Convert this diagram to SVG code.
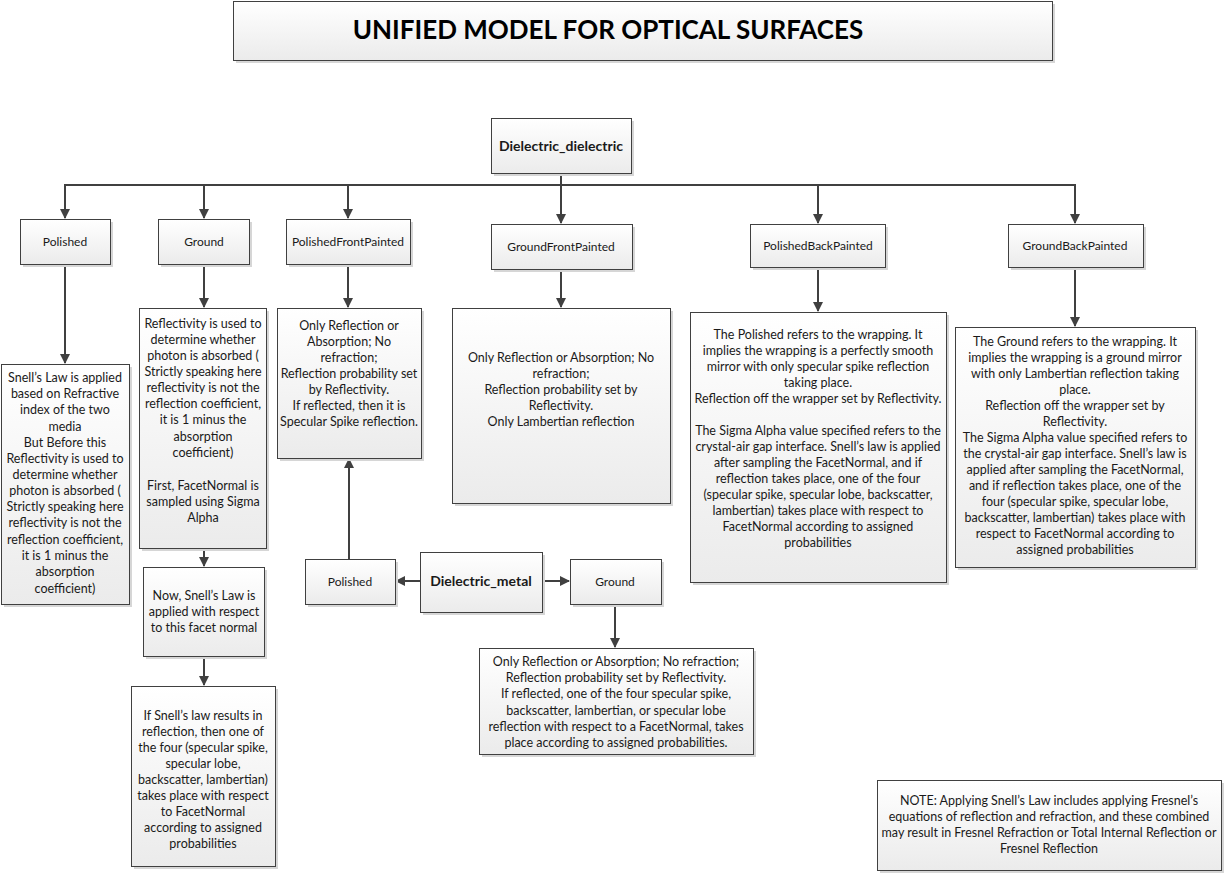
<svg xmlns="http://www.w3.org/2000/svg" width="1226" height="874" viewBox="0 0 1226 874">
<style>
.box{fill:url(#g);stroke:#404040;stroke-width:1}
.sh{fill:#d6d6d6}
text{font-family:Lato,"Open Sans","Liberation Sans",sans-serif;font-size:12.5px;fill:#1a1a1a;text-anchor:middle}
.n{font-size:12px}
.b{font-weight:bold;font-size:14px}
.t{font-weight:bold;font-size:26px;fill:#000}
.c line,.c path{stroke:#404040;stroke-width:2;fill:none}
</style>
<defs>
<linearGradient id="g" x1="0" y1="0" x2="0" y2="1"><stop offset="0" stop-color="#ffffff"/><stop offset="1" stop-color="#ebebeb"/></linearGradient>
<marker id="a" markerWidth="10" markerHeight="10" refX="9" refY="5" orient="auto" markerUnits="userSpaceOnUse"><path d="M0,0 L10,5 L0,10 z" fill="#404040"/></marker>
</defs>
<rect width="1226" height="874" fill="#fff"/>

<g id="title"><rect class="sh" x="236" y="4" width="819" height="59"/><rect class="box" x="233.5" y="1.5" width="819" height="59"/><text class="t" x="608" y="39">UNIFIED MODEL FOR OPTICAL SURFACES</text></g>

<g class="c" id="connectors">
<line x1="561" y1="173" x2="561" y2="185"/>
<line x1="64" y1="185" x2="1076" y2="185"/>
<line x1="65" y1="185" x2="65" y2="218" marker-end="url(#a)"/>
<line x1="204" y1="185" x2="204" y2="218" marker-end="url(#a)"/>
<line x1="348" y1="185" x2="348" y2="218" marker-end="url(#a)"/>
<line x1="561" y1="185" x2="561" y2="223" marker-end="url(#a)"/>
<line x1="818" y1="185" x2="818" y2="223" marker-end="url(#a)"/>
<line x1="1075" y1="185" x2="1075" y2="223" marker-end="url(#a)"/>
<line x1="65" y1="264" x2="65" y2="363" marker-end="url(#a)"/>
<line x1="204" y1="264" x2="204" y2="307" marker-end="url(#a)"/>
<line x1="348" y1="264" x2="348" y2="307" marker-end="url(#a)"/>
<line x1="561" y1="269" x2="561" y2="307" marker-end="url(#a)"/>
<line x1="818" y1="267" x2="818" y2="311" marker-end="url(#a)"/>
<line x1="1075" y1="267" x2="1075" y2="326" marker-end="url(#a)"/>
<line x1="204" y1="548" x2="204" y2="566" marker-end="url(#a)"/>
<line x1="204" y1="656" x2="204" y2="685" marker-end="url(#a)"/>
<line x1="420" y1="581" x2="396" y2="581" marker-end="url(#a)"/>
<line x1="542" y1="581" x2="569" y2="581" marker-end="url(#a)"/>
<line x1="349" y1="559" x2="349" y2="459" marker-end="url(#a)"/>
<line x1="615" y1="604" x2="615" y2="647" marker-end="url(#a)"/>
</g>

<g id="dielectric_dielectric"><rect class="sh" x="494" y="121" width="140" height="55"/><rect class="box" x="491.5" y="118.5" width="140" height="55"/><text class="b" x="561" y="151">Dielectric_dielectric</text></g>

<g id="polished"><rect class="sh" x="23" y="222" width="90" height="45"/><rect class="box" x="20.5" y="219.5" width="90" height="45"/><text class="n" x="65" y="246">Polished</text></g>
<g id="ground"><rect class="sh" x="161" y="222" width="91" height="45"/><rect class="box" x="158.5" y="219.5" width="91" height="45"/><text class="n" x="204" y="246">Ground</text></g>
<g id="polishedfrontpainted"><rect class="sh" x="289" y="222" width="124" height="45"/><rect class="box" x="286.5" y="219.5" width="124" height="45"/><text class="n" x="348" y="246">PolishedFrontPainted</text></g>
<g id="groundfrontpainted"><rect class="sh" x="494" y="227" width="141" height="45"/><rect class="box" x="491.5" y="224.5" width="141" height="45"/><text class="n" x="561" y="251">GroundFrontPainted</text></g>
<g id="polishedbackpainted"><rect class="sh" x="753" y="227" width="135" height="43"/><rect class="box" x="750.5" y="224.5" width="135" height="43"/><text class="n" x="818" y="250">PolishedBackPainted</text></g>
<g id="groundbackpainted"><rect class="sh" x="1011" y="227" width="135" height="43"/><rect class="box" x="1008.5" y="224.5" width="135" height="43"/><text class="n" x="1075" y="250">GroundBackPainted</text></g>

<g id="polished_desc"><rect class="sh" x="4" y="367" width="128" height="240"/><rect class="box" x="1.5" y="364.5" width="128" height="240"/>
<text x="65" y="382">Snell’s Law is applied</text>
<text x="65" y="398">based on Refractive</text>
<text x="65" y="414">index of the two</text>
<text x="65" y="431">media</text>
<text x="65" y="447">But Before this</text>
<text x="65" y="463">Reflectivity is used to</text>
<text x="65" y="479">determine whether</text>
<text x="65" y="495">photon is absorbed (</text>
<text x="65" y="511">Strictly speaking here</text>
<text x="65" y="527">reflectivity is not the</text>
<text x="65" y="544">reflection coefficient,</text>
<text x="65" y="560">it is 1 minus the</text>
<text x="65" y="576">absorption</text>
<text x="65" y="593">coefficient)</text>
</g>

<g id="ground_desc"><rect class="sh" x="142" y="311" width="127" height="240"/><rect class="box" x="139.5" y="308.5" width="127" height="240"/>
<text x="203" y="328">Reflectivity is used to</text>
<text x="203" y="344">determine whether</text>
<text x="203" y="360">photon is absorbed (</text>
<text x="203" y="376">Strictly speaking here</text>
<text x="203" y="392">reflectivity is not the</text>
<text x="203" y="408">reflection coefficient,</text>
<text x="203" y="424">it is 1 minus the</text>
<text x="203" y="441">absorption</text>
<text x="203" y="457">coefficient)</text>
<text x="203" y="490">First, FacetNormal is</text>
<text x="203" y="506">sampled using Sigma</text>
<text x="203" y="522">Alpha</text>
</g>

<g id="ground_snell"><rect class="sh" x="146" y="570" width="121" height="89"/><rect class="box" x="143.5" y="567.5" width="121" height="89"/>
<text x="204" y="600">Now, Snell’s Law is</text>
<text x="204" y="616">applied with respect</text>
<text x="204" y="632">to this facet normal</text>
</g>

<g id="ground_reflection"><rect class="sh" x="134" y="689" width="144" height="180"/><rect class="box" x="131.5" y="686.5" width="144" height="180"/>
<text x="203" y="720">If Snell’s law results in</text>
<text x="203" y="736">reflection, then one of</text>
<text x="203" y="752">the four (specular spike,</text>
<text x="203" y="768">specular lobe,</text>
<text x="203" y="784">backscatter, lambertian)</text>
<text x="203" y="800">takes place with respect</text>
<text x="203" y="816">to FacetNormal</text>
<text x="203" y="832">according to assigned</text>
<text x="203" y="848">probabilities</text>
</g>

<g id="pfp_desc"><rect class="sh" x="280" y="311" width="144" height="150"/><rect class="box" x="277.5" y="308.5" width="144" height="150"/>
<text x="349" y="330">Only Reflection or</text>
<text x="349" y="346">Absorption; No</text>
<text x="349" y="362">refraction;</text>
<text x="349" y="378">Reflection probability set</text>
<text x="349" y="394">by Reflectivity.</text>
<text x="349" y="410">If reflected, then it is</text>
<text x="349" y="426">Specular Spike reflection.</text>
</g>

<g id="gfp_desc"><rect class="sh" x="455" y="311" width="218" height="195"/><rect class="box" x="452.5" y="308.5" width="218" height="195"/>
<text x="561" y="362">Only Reflection or Absorption; No</text>
<text x="561" y="378">refraction;</text>
<text x="561" y="394">Reflection probability set by</text>
<text x="561" y="410">Reflectivity.</text>
<text x="561" y="426">Only Lambertian reflection</text>
</g>

<g id="pbp_desc"><rect class="sh" x="693" y="315" width="256" height="270"/><rect class="box" x="690.5" y="312.5" width="256" height="270"/>
<text x="818" y="339">The Polished refers to the wrapping. It</text>
<text x="818" y="355">implies the wrapping is a perfectly smooth</text>
<text x="818" y="371">mirror with only specular spike reflection</text>
<text x="818" y="387">taking place.</text>
<text x="818" y="403">Reflection off the wrapper set by Reflectivity.</text>
<text x="818" y="435">The Sigma Alpha value specified refers to the</text>
<text x="818" y="451">crystal-air gap interface. Snell’s law is applied</text>
<text x="818" y="467">after sampling the FacetNormal, and if</text>
<text x="818" y="483">reflection takes place, one of the four</text>
<text x="818" y="499">(specular spike, specular lobe, backscatter,</text>
<text x="818" y="515">lambertian) takes place with respect to</text>
<text x="818" y="531">FacetNormal according to assigned</text>
<text x="818" y="547">probabilities</text>
</g>

<g id="gbp_desc"><rect class="sh" x="958" y="330" width="240" height="240"/><rect class="box" x="955.5" y="327.5" width="240" height="240"/>
<text x="1075" y="346">The Ground refers to the wrapping. It</text>
<text x="1075" y="362">implies the wrapping is a ground mirror</text>
<text x="1075" y="378">with only Lambertian reflection taking</text>
<text x="1075" y="394">place.</text>
<text x="1075" y="410">Reflection off the wrapper set by</text>
<text x="1075" y="426">Reflectivity.</text>
<text x="1075" y="442">The Sigma Alpha value specified refers to</text>
<text x="1075" y="458">the crystal-air gap interface. Snell’s law is</text>
<text x="1075" y="474">applied after sampling the FacetNormal,</text>
<text x="1075" y="490">and if reflection takes place, one of the</text>
<text x="1075" y="506">four (specular spike, specular lobe,</text>
<text x="1075" y="522">backscatter, lambertian) takes place with</text>
<text x="1075" y="538">respect to FacetNormal according to</text>
<text x="1075" y="554">assigned probabilities</text>
</g>

<g id="dielectric_metal"><rect class="sh" x="423" y="555" width="122" height="60"/><rect class="box" x="420.5" y="552.5" width="122" height="60"/><text class="b" x="481" y="586">Dielectric_metal</text></g>
<g id="metal_polished"><rect class="sh" x="308" y="562" width="90" height="45"/><rect class="box" x="305.5" y="559.5" width="90" height="45"/><text class="n" x="350" y="586">Polished</text></g>
<g id="metal_ground"><rect class="sh" x="573" y="562" width="91" height="45"/><rect class="box" x="570.5" y="559.5" width="91" height="45"/><text class="n" x="615" y="586">Ground</text></g>

<g id="metal_ground_desc"><rect class="sh" x="482" y="651" width="274" height="106"/><rect class="box" x="479.5" y="648.5" width="274" height="106"/>
<text x="616" y="666">Only Reflection or Absorption; No refraction;</text>
<text x="616" y="682">Reflection probability set by Reflectivity.</text>
<text x="616" y="698">If reflected, one of the four specular spike,</text>
<text x="616" y="715">backscatter, lambertian, or specular lobe</text>
<text x="616" y="731">reflection with respect to a FacetNormal, takes</text>
<text x="616" y="747">place according to assigned probabilities.</text>
</g>

<g id="note"><rect class="sh" x="880" y="783" width="344" height="90"/><rect class="box" x="877.5" y="780.5" width="344" height="90"/>
<text x="1049" y="805">NOTE: Applying Snell’s Law includes applying Fresnel’s</text>
<text x="1049" y="821">equations of reflection and refraction, and these combined</text>
<text x="1049" y="837">may result in Fresnel Refraction or Total Internal Reflection or</text>
<text x="1049" y="853">Fresnel Reflection</text>
</g>
</svg>
